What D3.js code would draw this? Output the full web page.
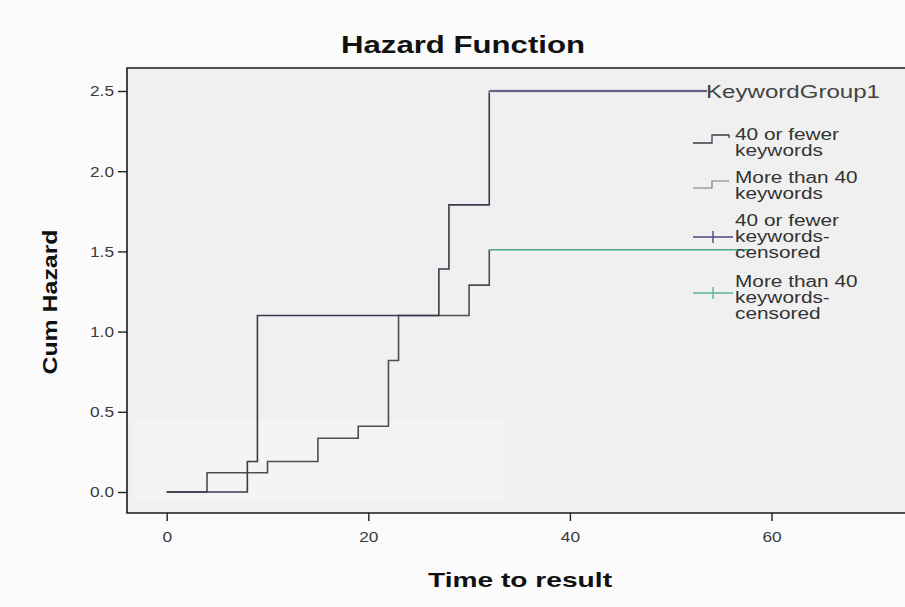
<!DOCTYPE html>
<html>
<head>
<meta charset="utf-8">
<script src="https://cdn.jsdelivr.net/npm/d3@7"></script>
<style>
  html, body { margin: 0; padding: 0; background: #fbfbfb; }
  svg { display: block; font-family: "Liberation Sans", Arial, sans-serif; }
</style>
</head>
<body>
<svg id="chart" width="905" height="607"></svg>
<script>
// ---- data ----
const chartTitle = "Hazard Function";
const xTitle = "Time to result";
const yTitle = "Cum Hazard";
const xTicks = [0, 20, 40, 60];
const yTicks = [0.0, 0.5, 1.0, 1.5, 2.0, 2.5];

// 40 or fewer keywords
const timesA = [0, 8, 9, 27, 28, 32];
const hazardA = [0, 0.19, 1.10, 1.39, 1.79, 2.50];
const censorEndA = 53.6;
// More than 40 keywords
const timesB = [0, 4, 10, 15, 19, 22, 23, 30, 32];
const hazardB = [0, 0.12, 0.19, 0.335, 0.41, 0.82, 1.10, 1.29, 1.51];
const censorEndB = 58;

const legendTitle = "KeywordGroup1";
const legendItems = [
  ["40 or fewer", "keywords"],
  ["More than 40", "keywords"],
  ["40 or fewer", "keywords-", "censored"],
  ["More than 40", "keywords-", "censored"]
];

// ---- layout ----
const svg = d3.select("#chart");
const frame = {left: 127, top: 68, bottom: 513, right: 912};
const x = d3.scaleLinear().domain([0, 60]).range([166.7, 771.5]);
const y = d3.scaleLinear().domain([0, 2.5]).range([492, 91]);

function stretch(sel, factor) {
  sel.each(function() {
    const w = this.getComputedTextLength();
    d3.select(this).attr("textLength", w * factor).attr("lengthAdjust", "spacingAndGlyphs");
  });
}
function fitTo(sel, w) {
  sel.attr("textLength", w).attr("lengthAdjust", "spacingAndGlyphs");
}

// plot background
svg.append("rect").attr("x", frame.left).attr("y", frame.top)
  .attr("width", frame.right - frame.left).attr("height", frame.bottom - frame.top)
  .attr("fill", "#f0f0f0");
svg.append("rect").attr("x", frame.left + 6).attr("y", 420)
  .attr("width", 372).attr("height", 80)
  .attr("fill", "#f3f4f3");

// frame
svg.append("path")
  .attr("d", `M${frame.right},${frame.top}H${frame.left}V${frame.bottom}H${frame.right}`)
  .attr("fill", "none").attr("stroke", "#1a1a1a").attr("stroke-width", 1.6);

// axes
const yAxis = svg.append("g").attr("transform", `translate(${frame.left},0)`)
  .call(d3.axisLeft(y).tickValues(yTicks).tickFormat(d3.format(".1f")).tickSize(9).tickPadding(4));
const xAxis = svg.append("g").attr("transform", `translate(0,${frame.bottom})`)
  .call(d3.axisBottom(x).tickValues(xTicks).tickFormat(d3.format("d")).tickSize(8).tickPadding(10));
[yAxis, xAxis].forEach(a => {
  a.select(".domain").remove();
  a.selectAll(".tick line").attr("stroke", "#222").attr("stroke-width", 1.4);
  a.selectAll(".tick text").attr("fill", "#3a3a3a").style("font-size", "15px")
    .style("font-family", '"Liberation Sans", Arial, sans-serif');
});
stretch(yAxis.selectAll(".tick text"), 1.15);
stretch(xAxis.selectAll(".tick text"), 1.15);

// series
const step = d3.line().x(d => x(d[0])).y(d => y(d[1])).curve(d3.curveStepAfter);
const dataA = timesA.map((t, i) => [t, hazardA[i]]);
const dataB = timesB.map((t, i) => [t, hazardB[i]]);

svg.append("path").attr("d", step(dataB)).attr("fill", "none")
  .attr("stroke", "#4e4e4e").attr("stroke-width", 1.6);
svg.append("path").attr("d", step(dataA)).attr("fill", "none")
  .attr("stroke", "#3a3a4c").attr("stroke-width", 1.6);

// censored tails
const lastA = dataA[dataA.length - 1], lastB = dataB[dataB.length - 1];
svg.append("line").attr("x1", x(lastA[0])).attr("x2", x(censorEndA))
  .attr("y1", y(lastA[1])).attr("y2", y(lastA[1]))
  .attr("stroke", "#dcdcef").attr("stroke-width", 4);
svg.append("line").attr("x1", x(lastA[0])).attr("x2", x(censorEndA))
  .attr("y1", y(lastA[1])).attr("y2", y(lastA[1]))
  .attr("stroke", "#3c3c62").attr("stroke-width", 1.4);
svg.append("line").attr("x1", x(lastB[0])).attr("x2", x(censorEndB))
  .attr("y1", y(lastB[1])).attr("y2", y(lastB[1]))
  .attr("stroke", "#45a88e").attr("stroke-width", 1.4);

// titles
const t = svg.append("text").attr("x", 463).attr("y", 53).attr("text-anchor", "middle")
  .style("font-size", "24px").style("font-weight", "bold").attr("fill", "#111").text(chartTitle);
fitTo(t, 244);
const xt = svg.append("text").attr("x", 520).attr("y", 587).attr("text-anchor", "middle")
  .style("font-size", "21px").style("font-weight", "bold").attr("fill", "#111").text(xTitle);
fitTo(xt, 184);
const yt = svg.append("text").attr("transform", "translate(57,302) rotate(-90)").attr("text-anchor", "middle")
  .style("font-size", "20px").style("font-weight", "bold").attr("fill", "#111").text(yTitle);
fitTo(yt, 145);

// legend
const lg = svg.append("g");
const lt = lg.append("text").attr("x", 706).attr("y", 98).style("font-size", "18px")
  .attr("fill", "#444").text(legendTitle);
fitTo(lt, 174);

const lineBase = [140, 183, 226, 287];
const lineGap = 16;
legendItems.forEach((lines, i) => {
  lines.forEach((s, j) => {
    const tx = lg.append("text").attr("x", 735).attr("y", lineBase[i] + j * lineGap)
      .style("font-size", "16px").attr("fill", "#333").text(s);
    stretch(tx, 1.3);
  });
});
// legend symbols
const symY = [139, 184, 237, 293];
lg.append("path").attr("d", `M693,${symY[0] + 4}H712V${symY[0] - 4}H729V${symY[0] - 1}`)
  .attr("fill", "none").attr("stroke", "#3a3a4c").attr("stroke-width", 1.3);
lg.append("path").attr("d", `M693,${symY[1] + 4}H712V${symY[1] - 3}H729`)
  .attr("fill", "none").attr("stroke", "#777").attr("stroke-width", 1.2);
lg.append("path").attr("d", `M693,${symY[2]}H733M713,${symY[2] - 6}V${symY[2] + 6}`)
  .attr("fill", "none").attr("stroke", "#4a4a80").attr("stroke-width", 1.4);
lg.append("path").attr("d", `M693,${symY[3]}H733M713,${symY[3] - 6}V${symY[3] + 6}`)
  .attr("fill", "none").attr("stroke", "#5ab49e").attr("stroke-width", 1.4);
</script>
</body>
</html>
